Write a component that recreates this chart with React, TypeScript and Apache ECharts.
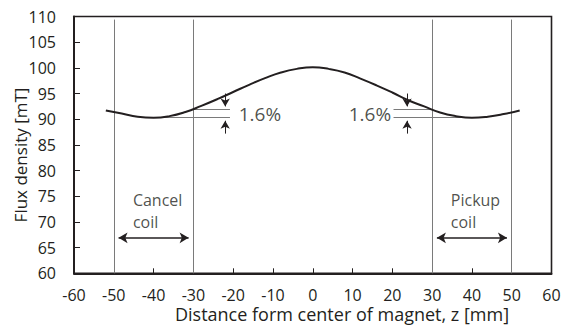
import React, { useEffect, useRef } from "react";
import * as echarts from "echarts";

// Axial flux density profile along the magnet axis
const zMm = [-52, -48, -44, -40, -36, -32, -28, -24, -20, -16, -12, -8, -4, 0, 4, 8, 12, 16, 20, 24, 28, 32, 36, 40, 44, 48, 52];
const fluxMT = [91.7, 91.1, 90.5, 90.3, 90.6, 91.4, 92.6, 93.9, 95.3, 96.7, 98.0, 99.1, 99.8, 100.1, 99.8, 99.1, 97.9, 96.6, 95.2, 93.7, 92.5, 91.3, 90.6, 90.3, 90.5, 91.0, 91.7];

// Coil boundaries [mm]
const cancelCoil = [-50, -30];
const pickupCoil = [30, 50];
const coilEdgeTop = 109.4;
const coilArrowLevel = 66.9;

// Ripple marker (1.6 %) levels [mT]
const rippleHigh = 91.9;
const rippleLow = 90.3;
const rippleText = "1.6%";
const leftRipple = { from: -30, to: -20.8, lowFrom: -40, arrowZ: -22, textZ: -18.6 };
const rightRipple = { from: 30, to: 20.3, lowFrom: 38, arrowZ: 23.7, textZ: 19.7 };
const rippleArrowTail = { above: 95.0, below: 87.2 };

const coilLabels = [
  { z: -45.2, text: "Cancel\ncoil" },
  { z: 34.7, text: "Pickup\ncoil" },
];
const coilLabelLevel = 72.2;

const xTicks = { min: -60, max: 60, step: 10 };
const yTicks = { min: 60, max: 110, step: 5 };

const xTitle = "Distance form center of magnet, z [mm]";
const yTitle = "Flux density [mT]";

const INK = "#231f20";
const FONT = "'Open Sans', 'Noto Sans', sans-serif";

export default function App() {
  const ref = useRef<HTMLDivElement>(null);

  useEffect(() => {
    if (!ref.current) return;
    const chart = echarts.init(ref.current, undefined, { renderer: "svg" });

    const vLine = (z: number) => [
      { coord: [z, yTicks.min] },
      { coord: [z, coilEdgeTop] },
    ];
    const hLine = (a: number, b: number, v: number) => [
      { coord: [a, v] },
      { coord: [b, v] },
    ];

    chart.setOption({
      animation: false,
      textStyle: { fontFamily: FONT, color: INK },
      grid: {
        left: 74,
        right: 15.5,
        top: 16.5,
        bottom: 51.7,
        show: true,
        borderColor: INK,
        borderWidth: 1.6,
      },
      xAxis: {
        type: "value",
        min: xTicks.min,
        max: xTicks.max,
        interval: xTicks.step,
        axisLine: { show: true, onZero: false, lineStyle: { color: INK, width: 2 } },
        axisTick: { show: true, inside: true, length: 5, lineStyle: { color: INK, width: 1 } },
        axisLabel: { color: INK, fontSize: 16, lineHeight: 16, fontFamily: FONT, margin: 14 },
        splitLine: { show: false },
      },
      yAxis: {
        type: "value",
        min: yTicks.min,
        max: yTicks.max,
        interval: yTicks.step,
        axisLine: { show: true, onZero: false, lineStyle: { color: INK, width: 2 } },
        axisTick: { show: true, inside: true, length: 6, lineStyle: { color: INK, width: 1 } },
        axisLabel: { color: INK, fontSize: 16, fontFamily: FONT, margin: 18 },
        splitLine: { show: false },
      },
      graphic: [
        {
          type: "text",
          x: 342,
          y: 314,
          style: {
            text: xTitle,
            font: `18px ${FONT}`,
            lineHeight: 18,
            fill: INK,
            align: "center",
            verticalAlign: "middle",
          },
        },
        {
          type: "text",
          x: 20,
          y: 155,
          rotation: Math.PI / 2,
          style: {
            text: yTitle,
            font: `17px ${FONT}`,
            fill: INK,
            align: "center",
            verticalAlign: "middle",
          },
        },
      ],
      series: [
        {
          name: "Flux density",
          type: "line",
          data: zMm.map((z, i) => [z, fluxMT[i]]),
          smooth: true,
          showSymbol: false,
          symbol: "none",
          lineStyle: { color: INK, width: 2 },
          silent: true,
          z: 5,
        },
        {
          // coil edges and ripple reference lines
          type: "line",
          data: [],
          silent: true,
          markLine: {
            silent: true,
            symbol: ["none", "none"],
            label: { show: false },
            lineStyle: { color: "#7a7a7a", width: 1, type: "solid" },
            emphasis: { disabled: true },
            data: [
              vLine(cancelCoil[0]),
              vLine(cancelCoil[1]),
              vLine(pickupCoil[0]),
              vLine(pickupCoil[1]),
              hLine(leftRipple.from, leftRipple.to, rippleHigh),
              hLine(leftRipple.lowFrom, leftRipple.to, rippleLow),
              hLine(rightRipple.from, rightRipple.to, rippleHigh),
              hLine(rightRipple.lowFrom, rightRipple.to, rippleLow),
            ],
          },
        },
        {
          // ripple arrows
          type: "line",
          data: [],
          silent: true,
          markLine: {
            silent: true,
            symbol: ["none", "arrow"],
            symbolSize: [7, 8],
            label: { show: false },
            lineStyle: { color: INK, width: 1, type: "solid" },
            emphasis: { disabled: true },
            data: [
              [{ coord: [leftRipple.arrowZ, rippleArrowTail.above] }, { coord: [leftRipple.arrowZ, rippleHigh + 0.6] }],
              [{ coord: [leftRipple.arrowZ, rippleArrowTail.below] }, { coord: [leftRipple.arrowZ, rippleLow - 0.6] }],
              [{ coord: [rightRipple.arrowZ, rippleArrowTail.above] }, { coord: [rightRipple.arrowZ, rippleHigh + 0.6] }],
              [{ coord: [rightRipple.arrowZ, rippleArrowTail.below] }, { coord: [rightRipple.arrowZ, rippleLow - 0.6] }],
            ],
          },
        },
        {
          // coil extent arrows
          type: "line",
          data: [],
          silent: true,
          markLine: {
            silent: true,
            symbol: ["arrow", "arrow"],
            symbolSize: [8, 9],
            label: { show: false },
            lineStyle: { color: INK, width: 1.5, type: "solid" },
            emphasis: { disabled: true },
            data: [
              [{ coord: [cancelCoil[0] + 1.2, coilArrowLevel] }, { coord: [cancelCoil[1] - 1.2, coilArrowLevel] }],
              [{ coord: [pickupCoil[0] + 1.2, coilArrowLevel] }, { coord: [pickupCoil[1] - 1.2, coilArrowLevel] }],
            ],
          },
        },
        {
          // text annotations
          type: "scatter",
          symbolSize: 0,
          silent: true,
          data: [
            {
              value: [leftRipple.textZ, (rippleHigh + rippleLow) / 2],
              label: { formatter: rippleText, align: "left", fontSize: 19 },
            },
            {
              value: [rightRipple.textZ, (rippleHigh + rippleLow) / 2],
              label: { formatter: rippleText, align: "right", fontSize: 19 },
            },
            ...coilLabels.map((c) => ({
              value: [c.z, coilLabelLevel],
              label: { formatter: c.text, align: "left", fontSize: 16, lineHeight: 22 },
            })),
          ],
          label: {
            show: true,
            position: "inside",
            verticalAlign: "middle",
            color: INK,
            fontFamily: FONT,
          },
        },
      ],
    });

    return () => chart.dispose();
  }, []);

  return (
    <div
      ref={ref}
      style={{ position: "absolute", left: 0, top: 0, width: 567, height: 325 }}
    />
  );
}
